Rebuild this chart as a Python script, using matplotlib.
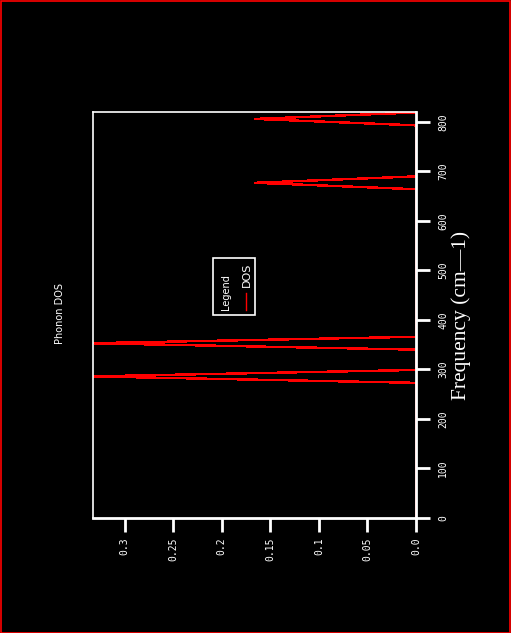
import matplotlib
matplotlib.use("Agg")
import matplotlib.pyplot as plt
from matplotlib.patches import Rectangle
from matplotlib.lines import Line2D

# Data: phonon DOS vs frequency (cm-1)
frequency = [0, 273, 286, 299, 340, 353, 366, 664, 677, 690, 793, 806, 819]
dos = [0.0, 0.0, 0.336, 0.0, 0.0, 0.336, 0.0, 0.0, 0.166, 0.0, 0.0, 0.166, 0.0]

dos_ticks = [0.3, 0.25, 0.2, 0.15, 0.1, 0.05, 0.0]
dos_ticklabels = ["0.3", "0.25", "0.2", "0.15", "0.1", "0.05", "0.0"]
freq_ticks = [0, 100, 200, 300, 400, 500, 600, 700, 800]

W, H = 511, 633
fig = plt.figure(figsize=(W / 100, H / 100), dpi=100, facecolor="black")

# red frame around the figure
fig.patches.append(Rectangle((0.5 / W, 0.5 / H), 1 - 1.5 / W, 1 - 1.5 / H,
                             transform=fig.transFigure, fill=False,
                             edgecolor="#ff0000", linewidth=1.2))

ax = fig.add_axes([93 / W, 1 - 518 / H, 323 / W, 406 / H], facecolor="black")
ax.plot(dos, frequency, color="#ff0000", linewidth=1.0, antialiased=False,
        clip_on=True)

ax.set_xlim(0.3327, 0.0)
ax.set_ylim(0, 820)

mono = "DejaVu Sans Mono"
ax.set_xticks(dos_ticks)
ax.set_xticklabels(dos_ticklabels, rotation=90, family=mono, fontsize=7,
                   color="white", va="top")
ax.yaxis.tick_right()
ax.set_yticks(freq_ticks)
ax.set_yticklabels([str(v) for v in freq_ticks], rotation=90, family=mono,
                   fontsize=7, color="white", va="center")
ax.tick_params(axis="x", colors="white", length=10, width=2, pad=4, direction="out")
ax.tick_params(axis="y", colors="white", length=10, width=2, pad=6, direction="out")

for side, lw in (("top", 1.2), ("left", 1.2), ("bottom", 2), ("right", 2)):
    ax.spines[side].set_color("white")
    ax.spines[side].set_linewidth(lw)

# Frequency axis label (right side, rotated)
fig.text(461 / W, 1 - 315 / H, "Frequency (cm\u20141)", rotation=90,
         family="Liberation Serif", fontsize=15.5, color="white",
         ha="center", va="center")

# title (rotated, left side)
fig.text(60 / W, 1 - 313 / H, "Phonon DOS", rotation=90, family="DejaVu Sans",
         fontsize=7, color="white", ha="center", va="center")

# legend (rotated)
bx0, bx1 = 212.5, 254.5
by0, by1 = 258.5, 315
fig.patches.append(Rectangle((bx0 / W, 1 - by1 / H), (bx1 - bx0) / W, (by1 - by0) / H,
                             transform=fig.transFigure, facecolor="black",
                             edgecolor="white", linewidth=1.2, zorder=5))
fig.text(226 / W, 1 - 292 / H, "Legend", rotation=90, family="DejaVu Sans",
         fontsize=7, color="white", ha="center", va="center", zorder=6)
fig.text(247 / W, 1 - 275 / H, "DOS", rotation=90, family="DejaVu Sans",
         fontsize=8, color="white", ha="center", va="center", zorder=6)
fig.lines.append(Line2D([246 / W, 246 / W], [1 - 293 / H, 1 - 310 / H],
                        transform=fig.transFigure, color="#ff0000",
                        linewidth=1.0, zorder=6))

fig.savefig("out.png", dpi=100, facecolor="black")
